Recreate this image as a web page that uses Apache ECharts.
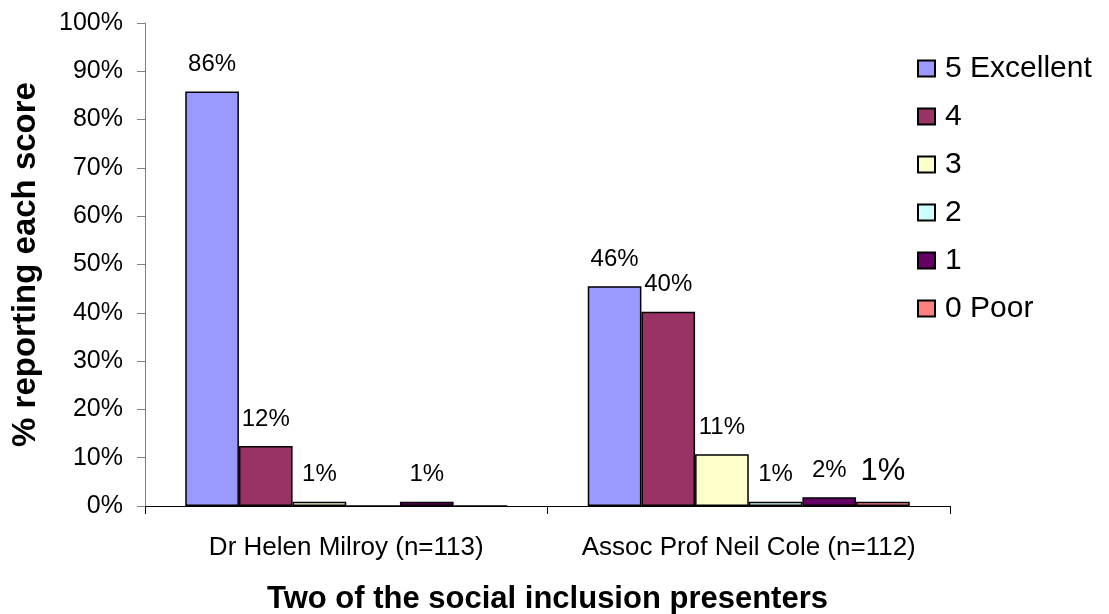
<!DOCTYPE html>
<html>
<head>
<meta charset="utf-8">
<script src="https://cdn.jsdelivr.net/npm/echarts@6/dist/echarts.min.js"></script>
<style>html,body{margin:0;padding:0;background:#fff;}#c{width:1109px;height:614px;}</style>
</head>
<body>
<div id="c"></div>
<script>
const categories = ['Dr Helen Milroy (n=113)', 'Assoc Prof Neil Cole (n=112)'];
const seriesNames = ['5 Excellent', '4', '3', '2', '1', '0 Poor'];
const score5 = [85.8, 45.5];
const score4 = [12.4, 40.2];
const score3 = [0.9, 10.7];
const score2 = [0, 0.9];
const score1 = [0.9, 1.8];
const score0 = [0, 0.9];
const yTicks = [0, 10, 20, 30, 40, 50, 60, 70, 80, 90, 100];

const values = [score5, score4, score3, score2, score1, score0];
const colors = ['#9999FF', '#993366', '#FFFFCC', '#CCFFFF', '#660066', '#FF8080'];

const chart = echarts.init(document.getElementById('c'));
const font = 'Arial, "Liberation Sans", sans-serif';

const series = seriesNames.map((name, i) => ({
  name: name,
  type: 'bar',
  data: values[i].map((v, j) => {
    const item = { value: v };
    if (i === 5 && j === 1) item.label = { fontSize: 31 };
    return item;
  }),
  barCategoryGap: '20%',
  barGap: '0%',
  itemStyle: { color: colors[i], borderColor: '#000', borderWidth: 1.5 },
  label: {
    show: true,
    position: 'top',
    distance: 15,
    color: '#000',
    fontFamily: font,
    fontSize: 24,
    formatter: p => p.value > 0 ? Math.round(p.value) + '%' : ''
  }
}));

chart.setOption({
  animation: false,
  backgroundColor: '#fff',
  grid: { left: 145, right: 159, top: 23, bottom: 108, containLabel: false, outerBoundsMode: 'none' },
  legend: {
    orient: 'vertical',
    left: 917,
    top: 53,
    padding: 0,
    itemWidth: 17,
    itemHeight: 16,
    itemGap: 17,
    icon: 'rect',
    textStyle: { fontFamily: font, fontSize: 30, color: '#000', lineHeight: 31, padding: [0, 0, 0, 5] },
    data: seriesNames
  },
  xAxis: {
    type: 'category',
    data: categories,
    name: 'Two of the social inclusion presenters',
    nameLocation: 'middle',
    nameGap: 78,
    nameTextStyle: { fontFamily: font, fontSize: 31, fontWeight: 'bold', color: '#000' },
    axisLine: { lineStyle: { color: '#000', width: 1 } },
    axisTick: { show: true, length: 8, lineStyle: { color: '#000' } },
    axisLabel: { fontFamily: font, fontSize: 26, color: '#000', margin: 29, interval: 0, hideOverlap: false }
  },
  yAxis: {
    type: 'value',
    min: 0,
    max: 100,
    interval: 10,
    name: '% reporting each score',
    nameLocation: 'middle',
    nameGap: 103,
    nameTextStyle: { fontFamily: font, fontSize: 33, fontWeight: 'bold', color: '#000' },
    splitLine: { show: false },
    axisLine: { show: true, lineStyle: { color: '#808080', width: 1 } },
    axisTick: { show: true, length: 8, lineStyle: { color: '#808080' } },
    axisLabel: {
      fontFamily: font, fontSize: 25, color: '#000', margin: 22,
      formatter: v => yTicks.includes(v) ? v + '%' : ''
    }
  },
  series: series
});
</script>
</body>
</html>
